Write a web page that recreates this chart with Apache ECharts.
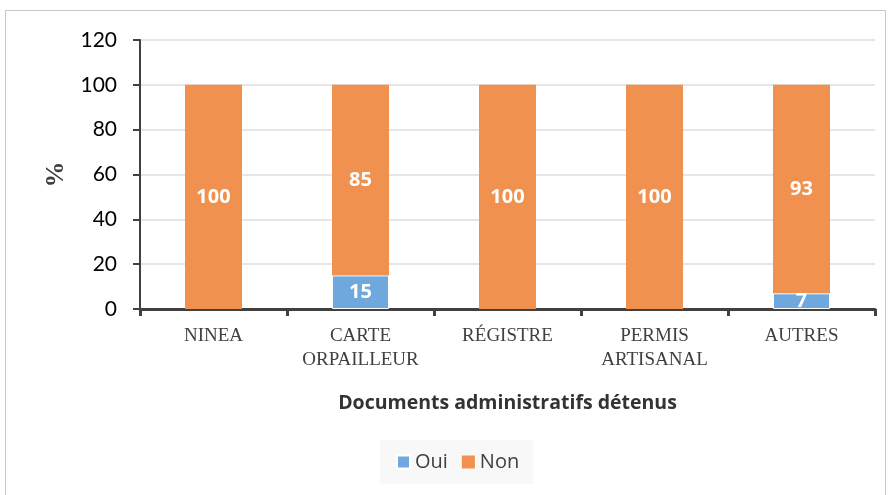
<!DOCTYPE html>
<html>
<head>
<meta charset="utf-8">
<script src="https://cdn.jsdelivr.net/npm/echarts@6/dist/echarts.min.js"></script>
<style>
  html, body { margin: 0; padding: 0; background: #fff; }
  #frame {
    position: absolute; left: 5px; top: 10px; width: 881px; height: 495px;
    border: 1px solid #c8c8c8; box-sizing: border-box;
  }
  #chart { position: absolute; left: 0; top: 0; width: 890px; height: 495px; }
</style>
</head>
<body>
<div id="frame"></div>
<div id="chart"></div>
<script>
// categories and values
const categories = ['NINEA', 'CARTE\nORPAILLEUR', 'RÉGISTRE', 'PERMIS\nARTISANAL', 'AUTRES']
const ouiValues = [0, 15, 0, 0, 7]
const nonValues = [100, 85, 100, 100, 93]

const myChart = echarts.init(document.getElementById('chart'))

// white bold value labels inside the segments
const labelStyle = {
  show: true,
  position: 'inside',
  color: '#fff',
  fontFamily: 'Open Sans',
  fontWeight: 'bold',
  fontSize: 20,
  formatter: p => (p.value ? p.value : '')
}

// zero-height segments are left out so they draw no border
const toSeries = arr => arr.map(v => (v === 0 ? '-' : v))

const option = {
  animation: false,
  grid: { left: 140, right: 15, top: 40, bottom: 186 },
  legend: {
    left: 380,
    top: 440,
    padding: [12, 14, 12, 16],
    backgroundColor: '#f8f8f8',
    itemWidth: 13,
    itemHeight: 13,
    itemGap: 14,
    icon: 'rect',
    textStyle: { fontFamily: 'Open Sans', fontSize: 20, color: '#404040' },
    data: ['Oui', 'Non']
  },
  xAxis: {
    type: 'category',
    data: categories,
    name: 'Documents administratifs détenus',
    nameLocation: 'middle',
    nameGap: 84,
    nameTextStyle: { fontFamily: 'Open Sans', fontWeight: 'bold', fontSize: 19.5, color: '#333' },
    axisLine: { lineStyle: { color: '#404040', width: 3 } },
    axisTick: { show: true, length: 7, lineStyle: { color: '#404040', width: 3 } },
    axisLabel: {
      fontFamily: 'Liberation Serif', fontSize: 19, color: '#404040',
      margin: 15, lineHeight: 24, interval: 0
    }
  },
  yAxis: {
    type: 'value',
    min: 0,
    max: 120,
    interval: 20,
    name: '%',
    nameLocation: 'middle',
    nameGap: 68,
    nameTextStyle: { fontFamily: 'Liberation Serif', fontWeight: 'bold', fontSize: 26, color: '#404040' },
    axisLine: { show: true, lineStyle: { color: '#404040', width: 2 } },
    axisTick: { show: true, length: 7, lineStyle: { color: '#404040', width: 2 } },
    axisLabel: { fontFamily: 'Lato', fontSize: 21, color: '#000', margin: 23 },
    splitLine: { lineStyle: { color: '#e6e6e6', width: 2 } }
  },
  series: [
    {
      name: 'Oui',
      type: 'bar',
      stack: 'total',
      barWidth: 57,
      data: toSeries(ouiValues),
      itemStyle: { color: '#6fa8dc', borderColor: '#fff', borderWidth: 1 },
      label: labelStyle
    },
    {
      name: 'Non',
      type: 'bar',
      stack: 'total',
      barWidth: 57,
      data: toSeries(nonValues),
      itemStyle: { color: '#f0914f' },
      label: labelStyle
    }
  ]
}

myChart.setOption(option)
</script>
</body>
</html>
